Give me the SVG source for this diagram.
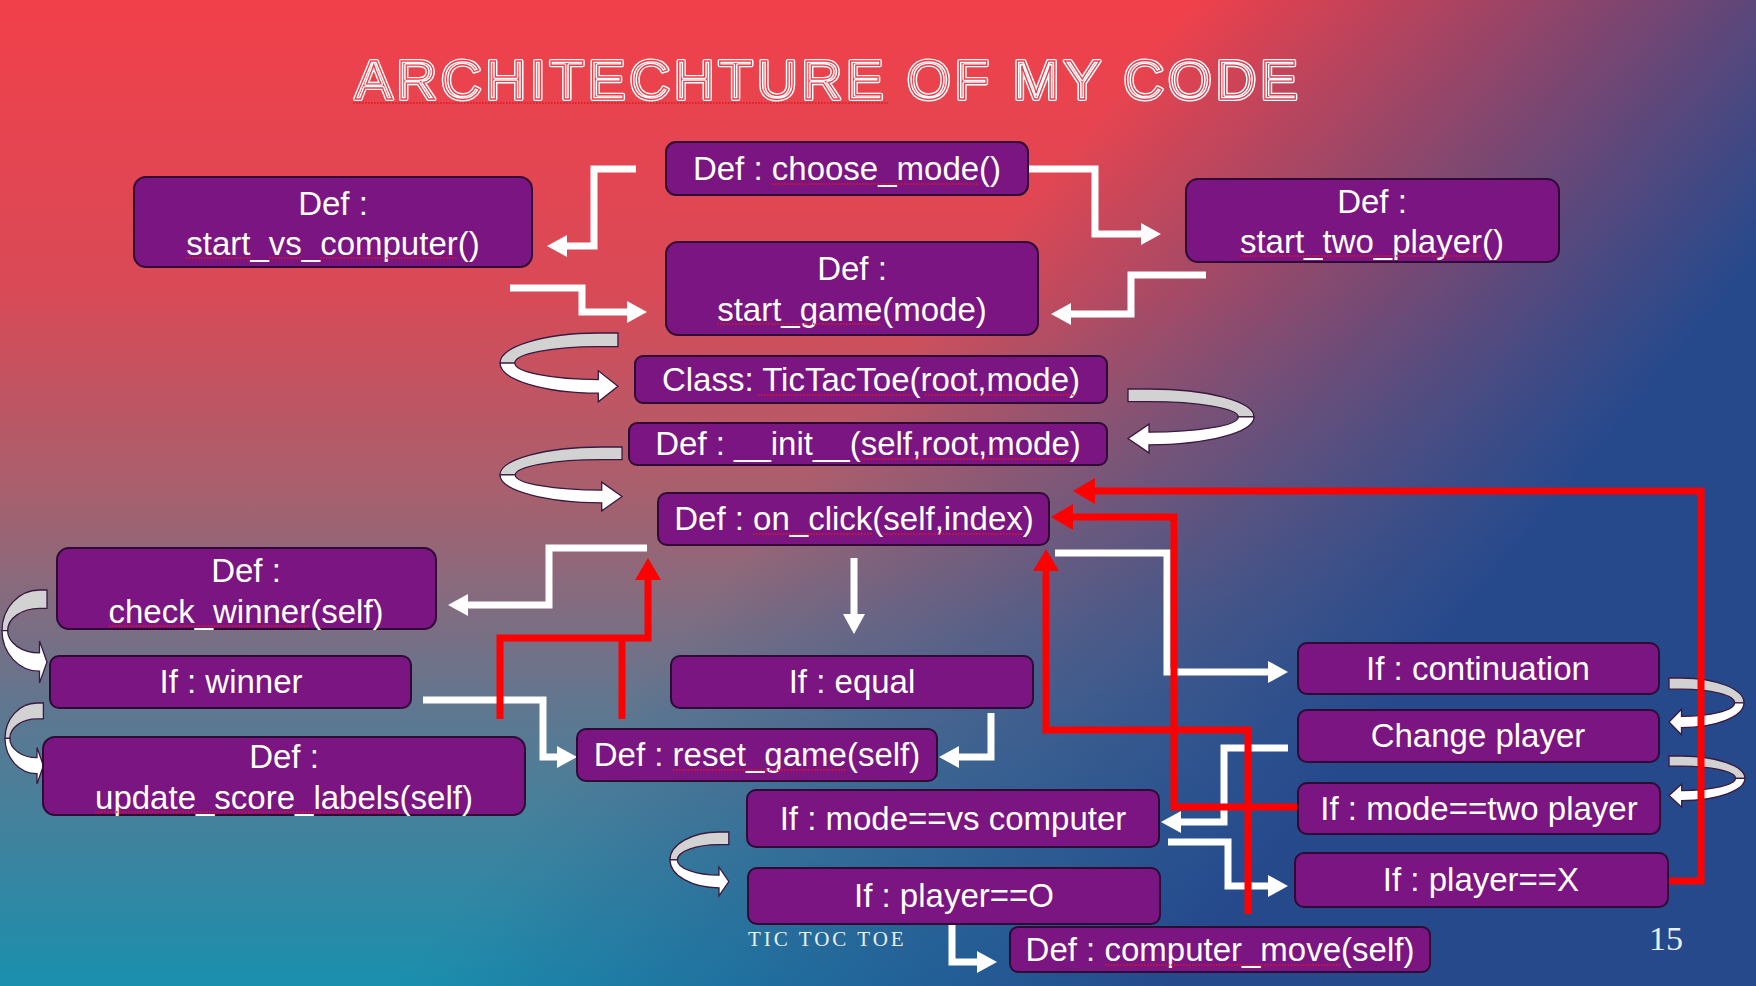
<svg xmlns="http://www.w3.org/2000/svg" width="1756" height="986" viewBox="0 0 1756 986">
  <defs>
    <style>
      .node rect { fill: #7a1582; stroke: #2e0a35; stroke-width: 2; }
      .node text { font-family: 'Liberation Sans', Arial, sans-serif; font-size: 33px; fill: #ffffff; text-anchor: middle; }
      .wire { fill: none; stroke: #ffffff; stroke-width: 7; stroke-linejoin: miter; }
      .red { fill: none; stroke: #ff0000; stroke-width: 7; stroke-linejoin: miter; }
      .sq { fill: none; stroke: #e3161c; stroke-width: 1.6; stroke-dasharray: 1.6 1.4; }
      .back { fill: #d2d2d2; stroke: #3a1a40; stroke-width: 1.3; vector-effect: non-scaling-stroke; }
      .front { fill: #ffffff; stroke: #3a1a40; stroke-width: 1.3; vector-effect: non-scaling-stroke; }
    </style>

    <!-- background: red to teal top-down, blue washing in from the right -->
    <linearGradient id="bgV" x1="0" y1="0" x2="0" y2="1">
      <stop offset="0" stop-color="#f1404a"/>
      <stop offset="0.3" stop-color="#d84a57"/>
      <stop offset="0.5" stop-color="#a8606e"/>
      <stop offset="0.72" stop-color="#5f7790"/>
      <stop offset="1" stop-color="#1a90ae"/>
    </linearGradient>
    <linearGradient id="bgB" gradientUnits="userSpaceOnUse" x1="1190" y1="0" x2="1660" y2="380">
      <stop offset="0" stop-color="#26498c" stop-opacity="0"/>
      <stop offset="1" stop-color="#26498c" stop-opacity="1"/>
    </linearGradient>
    <linearGradient id="titleLine" gradientUnits="userSpaceOnUse" x1="353" y1="0" x2="1300" y2="0">
      <stop offset="0" stop-color="#ee3f48"/>
      <stop offset="0.7" stop-color="#e63f49"/>
      <stop offset="1" stop-color="#cf4256"/>
    </linearGradient>

    <marker id="ahW" markerUnits="userSpaceOnUse" viewBox="0 0 20 22" markerWidth="20" markerHeight="22" refX="0" refY="11" orient="auto">
      <path d="M0,0 L20,11 L0,22 Z" fill="#ffffff"/>
    </marker>
    <marker id="ahR" markerUnits="userSpaceOnUse" viewBox="0 0 22 26" markerWidth="22" markerHeight="26" refX="0" refY="13" orient="auto">
      <path d="M0,0 L22,13 L0,26 Z" fill="#ff0000"/>
    </marker>

    <!-- U-turn band arrow: grey back face on top, white front face with head -->
    <g id="uturn">
      <path class="back" d="M120,0 L100,0 A100,31 0 0 0 0,31 L15,31 A85,17 0 0 1 100,14 L120,14 Z"/>
      <path class="front" d="M0,31 A100,31 0 0 0 100,62 L100,71 L120,55 L100,39 L100,48 A85,17 0 0 1 15,31 Z"/>
    </g>
  </defs>

  <!-- background -->
  <rect x="0" y="0" width="1756" height="986" fill="url(#bgV)"/>
  <rect x="0" y="0" width="1756" height="986" fill="url(#bgB)"/>

  <!-- title -->
  <g id="title" font-family="'Liberation Sans', Arial, sans-serif" font-size="56" letter-spacing="4.1">
    <text x="355" y="99" fill="none" stroke="#ffffff" stroke-width="4.2" stroke-linejoin="round">ARCHITECHTURE OF MY CODE</text>
    <text x="355" y="99" fill="none" stroke="url(#titleLine)" stroke-width="1.3">ARCHITECHTURE OF MY CODE</text>
    <path class="sq" d="M353,103 H888"/>
  </g>

  <!-- curved flow arrows -->
  <g id="turns">
    <use href="#uturn" transform="translate(500,333) scale(0.983,0.97)"/>
    <use href="#uturn" transform="translate(1254,389) scale(-1.05,0.9)"/>
    <use href="#uturn" transform="translate(500,447) scale(1.017,0.9)"/>
    <use href="#uturn" transform="translate(2,590) scale(0.375,1.31)"/>
    <use href="#uturn" transform="translate(5,703) scale(0.32,1.14)"/>
    <use href="#uturn" transform="translate(670,832) scale(0.49,0.9)"/>
    <use href="#uturn" transform="translate(1744,678) scale(-0.625,0.8)"/>
    <use href="#uturn" transform="translate(1745,756) scale(-0.633,0.72)"/>
  </g>

  <!-- connectors -->
  <g id="connectors">
    <g id="white-links" marker-end="url(#ahW)">
      <path class="wire" d="M636,169 H594 V246 H567"/>
      <path class="wire" d="M1028,169 H1095 V234 H1141"/>
      <path class="wire" d="M1206,275 H1131 V314 H1071"/>
      <path class="wire" d="M510,288 H582 V312 H627"/>
      <path class="wire" d="M647,548 H549 V605 H468"/>
      <path class="wire" d="M854,558 V614"/>
      <path class="wire" d="M1055,553 H1167 V672 H1268"/>
      <path class="wire" d="M423,700 H543 V757 H557"/>
      <path class="wire" d="M991,713 V757 H959"/>
      <path class="wire" d="M1288,748 H1224 V822 H1181"/>
      <path class="wire" d="M1168,842 H1228 V886 H1268"/>
      <path class="wire" d="M952,925 V962 H977"/>
    </g>
    <g id="red-links">
      <path class="red" d="M1668,881 H1701 V491 H1095" marker-end="url(#ahR)"/>
      <path class="red" d="M1298,807 H1174 V517 H1073" marker-end="url(#ahR)"/>
      <path class="red" d="M1248,914 V730 H1046 V571" marker-end="url(#ahR)"/>
      <path class="red" d="M500,719 V638 H648 V580" marker-end="url(#ahR)"/>
      <path class="red" d="M622,719 V638"/>
    </g>
  </g>

  <!-- nodes -->
  <g id="n-start-vs-computer" class="node">
    <rect x="134" y="177" width="398" height="90" rx="12"/>
    <text x="333" y="215">Def :</text>
    <text x="333" y="255">start_vs_computer()</text>
    <path class="sq" d="M186,258 H251 M269,258 H302 M320,258 H458"/>
  </g>
  <g id="n-choose-mode" class="node">
    <rect x="666" y="142" width="362" height="53" rx="10"/>
    <text x="847" y="180">Def : choose_mode()</text>
    <path class="sq" d="M772,184 H979"/>
  </g>
  <g id="n-start-two-player" class="node">
    <rect x="1186" y="179" width="373" height="83" rx="12"/>
    <text x="1372" y="213">Def :</text>
    <text x="1372" y="253">start_two_player()</text>
    <path class="sq" d="M1240,256 H1482"/>
  </g>
  <g id="n-start-game" class="node">
    <rect x="666" y="242" width="372" height="93" rx="12"/>
    <text x="852" y="280">Def :</text>
    <text x="852" y="321">start_game(mode)</text>
    <path class="sq" d="M717,324 H882"/>
  </g>
  <g id="n-class-tictactoe" class="node">
    <rect x="635" y="356" width="472" height="47" rx="8"/>
    <text x="871" y="391">Class: TicTacToe(root,mode)</text>
    <path class="sq" d="M758,395 H914 M925,395 H1074"/>
  </g>
  <g id="n-init" class="node">
    <rect x="629" y="423" width="478" height="42" rx="8"/>
    <text x="868" y="455">Def : __init__(self,root,mode)</text>
    <path class="sq" d="M861,459 H1070"/>
  </g>
  <g id="n-on-click" class="node">
    <rect x="658" y="493" width="391" height="52" rx="9"/>
    <text x="854" y="530">Def : on_click(self,index)</text>
    <path class="sq" d="M753,534 H872 M883,534 H1023"/>
  </g>
  <g id="n-check-winner" class="node">
    <rect x="57" y="548" width="379" height="81" rx="12"/>
    <text x="246" y="582">Def :</text>
    <text x="246" y="623">check_winner(self)</text>
    <path class="sq" d="M109,626 H310"/>
  </g>
  <g id="n-if-winner" class="node">
    <rect x="50" y="656" width="361" height="52" rx="9"/>
    <text x="231" y="693">If : winner</text>
  </g>
  <g id="n-update-score" class="node">
    <rect x="43" y="737" width="482" height="78" rx="12"/>
    <text x="284" y="768">Def :</text>
    <text x="284" y="809">update_score_labels(self)</text>
    <path class="sq" d="M95,812 H400"/>
  </g>
  <g id="n-if-equal" class="node">
    <rect x="671" y="656" width="362" height="52" rx="9"/>
    <text x="852" y="693">If : equal</text>
  </g>
  <g id="n-reset-game" class="node">
    <rect x="577" y="729" width="360" height="52" rx="9"/>
    <text x="757" y="766">Def : reset_game(self)</text>
    <path class="sq" d="M673,770 H847"/>
  </g>
  <g id="n-mode-vs-computer" class="node">
    <rect x="747" y="790" width="412" height="57" rx="9"/>
    <text x="953" y="830">If : mode==vs computer</text>
  </g>
  <g id="n-player-o" class="node">
    <rect x="748" y="868" width="412" height="56" rx="9"/>
    <text x="954" y="907">If : player==O</text>
  </g>
  <g id="n-computer-move" class="node">
    <rect x="1010" y="927" width="420" height="45" rx="8"/>
    <text x="1220" y="961">Def : computer_move(self)</text>
    <path class="sq" d="M1105,965 H1341"/>
  </g>
  <g id="n-continuation" class="node">
    <rect x="1298" y="643" width="361" height="51" rx="9"/>
    <text x="1478" y="680">If : continuation</text>
  </g>
  <g id="n-change-player" class="node">
    <rect x="1298" y="710" width="361" height="52" rx="9"/>
    <text x="1478" y="747">Change player</text>
  </g>
  <g id="n-mode-two-player" class="node">
    <rect x="1298" y="783" width="362" height="51" rx="9"/>
    <text x="1479" y="820">If : mode==two player</text>
  </g>
  <g id="n-player-x" class="node">
    <rect x="1295" y="853" width="373" height="54" rx="9"/>
    <text x="1481" y="891">If : player==X</text>
  </g>

  <!-- footer -->
  <text x="748" y="946" font-family="'Liberation Serif', 'Times New Roman', serif" font-size="21" letter-spacing="3" fill="#e9eef2">TIC TOC TOE</text>
  <text x="1666" y="950" font-family="'Liberation Serif', 'Times New Roman', serif" font-size="34" text-anchor="middle" fill="#e9eef2">15</text>
</svg>
